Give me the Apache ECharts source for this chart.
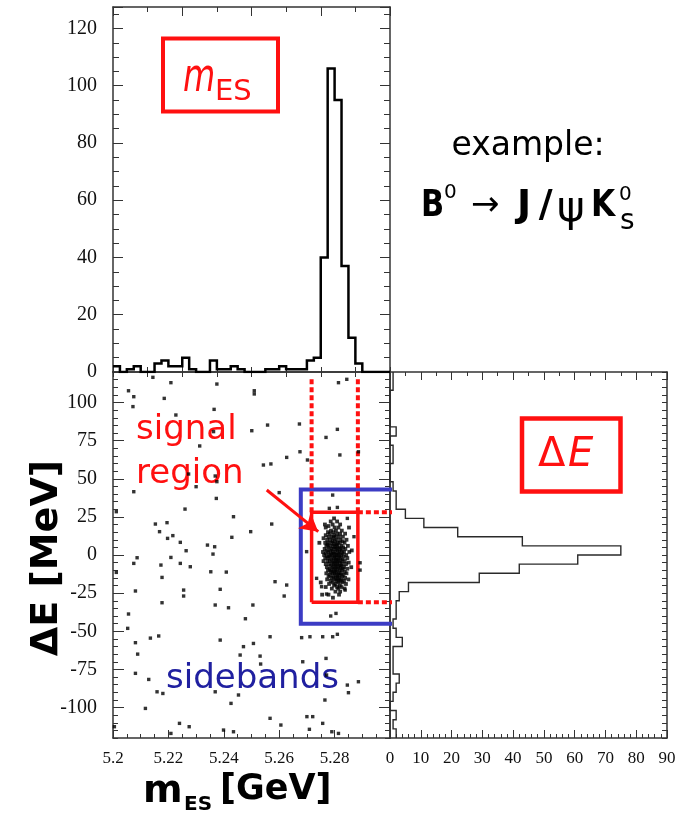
<!DOCTYPE html>
<html>
<head>
<meta charset="utf-8">
<script src="https://cdn.jsdelivr.net/npm/echarts@6/dist/echarts.min.js"></script>
<style>
html, body { margin: 0; padding: 0; background: #fff; }
#main { width: 683px; height: 818px; }
</style>
</head>
<body>
<div id="main"></div>
<script>
// mES histogram: 40 bins of 2.5 MeV, 5.200 .. 5.300 GeV
var mesStart = 5.2, mesBin = 0.0025;
var mesCounts = [2,0,1,2,0,0,3,4,2,2, 5,1,0,0,4,1,1,2,1,0, 0,0,1,1,2,1,1,1,4,5, 40,106,95,37,12,3,0,0,0,0];

// Delta E histogram: 40 bins of 6 MeV, -120 .. 120 MeV
var deStart = -120, deBin = 6;
var deCounts = [2,1,2,0,1,2,3,1,1,1, 4,2,1,2,2,3,6,29,42,61, 75,43,22,11,5,2,2,1,0,0, 1,1,0,2,0,0,0,0,1,1];

// tick labels
var deLongTicks = [-100,-75,-50,-25,0,25,50,75,100];

// scatter: [mES GeV, dE MeV]
var bgPoints = [
  [5.2144,116.5],[5.2209,113.0],[5.2375,112.1],[5.2056,107.7],[5.2075,103.8],[5.2185,102.7],
  [5.2072,97.3],[5.2365,95.5],[5.2227,91.8],[5.2363,80.9],[5.2313,71.5],[5.2273,53.1],
  [5.2369,51.8],[5.2375,48.1],[5.2300,44.8],[5.2075,41.5],[5.2373,37.1],[5.2260,30.1],
  [5.2012,28.4],[5.2435,25.1],[5.2153,20.3],[5.2195,21.2],[5.2168,15.3],[5.2216,12.7],
  [5.2197,10.9],[5.2429,11.6],[5.2243,8.3],[5.2341,6.5],[5.2367,5.4],[5.2264,2.8],
  [5.2361,0.6],[5.2087,-1.8],[5.2209,-1.6],[5.2075,-5.5],[5.2243,-5.5],[5.2173,-6.6],
  [5.2279,-7.7],[5.2012,-11.4],[5.2353,-11.0],[5.2409,-11.2],[5.2177,-14.7],[5.2081,-23.6],
  [5.2255,-23.0],[5.2255,-26.9],[5.2387,-22.5],[5.2177,-31.3],[5.2369,-32.8],[5.2417,-34.6],
  [5.2056,-38.7],[5.2478,-41.8],[5.2053,-48.1],[5.2165,-53.1],[5.2135,-54.5],[5.2081,-57.5],
  [5.2387,-55.8],[5.2471,-60.1],[5.2089,-65.0],[5.2459,-65.6],[5.2081,-77.6],[5.2129,-81.6],
  [5.2159,-89.7],[5.2180,-90.8],[5.2369,-89.7],[5.2453,-91.8],[5.2426,-97.3],[5.2117,-100.6],
  [5.2240,-110.4],[5.2275,-112.6],[5.2209,-117.0],[5.2399,-114.8],[5.2435,-115.9],[5.2005,-112.6],
  [5.2814,113.0],[5.2844,115.2],[5.2510,107.7],[5.2510,105.6],[5.2673,85.9],[5.2558,85.2],
  [5.2810,82.4],[5.2769,77.1],[5.2501,81.5],[5.2675,67.7],[5.2627,64.0],[5.2819,65.6],
  [5.2570,59.7],[5.2543,59.0],[5.2702,62.3],[5.2886,67.7],[5.2497,15.3],[5.2573,20.3],
  [5.2600,40.9],[5.2585,-17.5],[5.2627,-19.7],[5.2618,-26.9],[5.2505,-32.8],[5.2567,-53.6],
  [5.2507,-58.0],[5.2681,-54.2],[5.2711,-53.6],[5.2757,-53.6],[5.2793,-53.6],[5.2810,-52.0],
  [5.2531,-66.3],[5.2685,-70.0],[5.2769,-67.8],[5.2533,-71.5],[5.2771,-78.7],[5.2846,-85.3],
  [5.2886,-83.1],[5.2765,-95.1],[5.2850,-90.3],[5.2721,-106.0],[5.2567,-107.1],[5.2606,-111.5],
  [5.2700,-106.0],[5.2709,-114.3],[5.2790,-115.9],[5.2814,-117.0],[5.2757,-110.4],
  [5.2793,39.3],[5.2781,30.6],[5.2810,31.2],[5.2699,2.2],[5.2735,-15.3],[5.2786,-40.0],
  [5.2805,-38.3],[5.2892,-5.1],[5.2892,-9.9],[5.2870,12.0],[5.2846,24.0],[5.2753,-20.8],
  [5.2771,-25.6],[5.2838,-23.0]
];

var sigPoints = [
  [5.2798,24],[5.2786,22],[5.2809,22],[5.2793,20],[5.2820,20],[5.2778,19],
  [5.2800,18],[5.2814,18],[5.2768,18],[5.2787,16],[5.2805,16],[5.2826,16],
  [5.2795,15],[5.2776,15],[5.2783,14],[5.2809,14],[5.2820,14],[5.2838,14],
  [5.2798,13],[5.2768,13],[5.2778,12],[5.2790,12],[5.2804,12],[5.2816,12],[5.2830,12],
  [5.2796,11],[5.2760,11],[5.2773,10],[5.2784,10],[5.2808,10],[5.2821,10],[5.2843,10],
  [5.2793,9],[5.2801,9],[5.2829,9],[5.2766,8],[5.2778,8],[5.2789,8],[5.2812,8],[5.2819,8],[5.2836,8],
  [5.2798,7],[5.2806,7],[5.2774,7],[5.2770,6],[5.2783,6],[5.2794,6],[5.2809,6],[5.2825,6],[5.2848,6],
  [5.2778,5],[5.2802,5],[5.2816,5],[5.2831,5],[5.2764,4],[5.2789,4],[5.2797,4],[5.2807,4],[5.2820,4],[5.2839,4],
  [5.2772,3],[5.2784,3],[5.2811,3],[5.2826,3],
  [5.2758,2],[5.2777,2],[5.2793,2],[5.2803,2],[5.2818,2],[5.2834,2],[5.2853,2],
  [5.2768,1],[5.2787,1],[5.2798,1],[5.2814,1],[5.2828,1],
  [5.2762,0],[5.2780,0],[5.2792,0],[5.2805,0],[5.2810,0],[5.2823,0],[5.2842,0],
  [5.2773,-1],[5.2785,-1],[5.2800,-1],[5.2817,-1],[5.2833,-1],
  [5.2766,-2],[5.2778,-2],[5.2796,-2],[5.2808,-2],[5.2821,-2],[5.2846,-2],
  [5.2789,-3],[5.2804,-3],[5.2814,-3],[5.2829,-3],
  [5.2760,-4],[5.2774,-4],[5.2783,-4],[5.2798,-4],[5.2811,-4],[5.2824,-4],[5.2837,-4],
  [5.2792,-5],[5.2805,-5],[5.2819,-5],[5.2851,-5],
  [5.2768,-6],[5.2780,-6],[5.2796,-6],[5.2809,-6],[5.2828,-6],[5.2841,-6],
  [5.2787,-7],[5.2802,-7],[5.2816,-7],[5.2823,-7],
  [5.2772,-8],[5.2793,-8],[5.2806,-8],[5.2820,-8],[5.2834,-8],
  [5.2782,-9],[5.2798,-9],[5.2812,-9],[5.2830,-9],[5.2846,-9],
  [5.2776,-10],[5.2789,-10],[5.2803,-10],[5.2818,-10],[5.2826,-10],
  [5.2785,-11],[5.2797,-11],[5.2808,-11],[5.2837,-11],
  [5.2770,-12],[5.2792,-12],[5.2801,-12],[5.2815,-12],[5.2823,-12],[5.2843,-12],
  [5.2783,-13],[5.2806,-13],[5.2819,-13],[5.2832,-13],
  [5.2778,-14],[5.2795,-14],[5.2810,-14],[5.2827,-14],
  [5.2789,-15],[5.2803,-15],[5.2816,-15],[5.2838,-15],
  [5.2773,-16],[5.2798,-16],[5.2812,-16],[5.2824,-16],[5.2850,-16],
  [5.2786,-17],[5.2807,-17],[5.2820,-17],[5.2834,-17],
  [5.2793,-18],[5.2814,-18],[5.2828,-18],[5.2780,-19],[5.2803,-19],[5.2841,-19],
  [5.2798,-20],[5.2819,-20],[5.2809,-21],[5.2768,-21],[5.2825,-21],
  [5.2790,-22],[5.2813,-22],[5.2836,-22],[5.2803,-24],[5.2820,-24],
  [5.2778,-26],[5.2816,-26],[5.2794,-28],
  [5.2750,-18],[5.2755,-26],[5.2860,-8],[5.2862,3],[5.2765,20],[5.2852,18],[5.2745,8]
];

// selection boxes (mES GeV, dE MeV)
var signalMes = [5.2717, 5.2884];
var signalDe = [-31, 28];
var sidebandMes = [5.2678, 5.3008];
var sidebandDe = [-45, 43];
var dottedTop = 117;

var RED = '#ff1010', BLUE = '#3c3cc4', AX = '#333';

var mesHist = [];
mesCounts.forEach(function (c, i) {
  mesHist.push([mesStart + i * mesBin, c], [mesStart + (i + 1) * mesBin, c]);
});
var deHist = [];
deCounts.forEach(function (c, i) {
  deHist.push([c, deStart + i * deBin], [c, deStart + (i + 1) * deBin]);
});

function ax(o) {
  var base = {
    type: 'value',
    axisLine: { show: true, onZero: false, lineStyle: { color: AX, width: 1.5 } },
    axisTick: { show: true, inside: true, length: 8, lineStyle: { color: AX, width: 1 } },
    minorTick: { show: false },
    axisLabel: { show: false },
    splitLine: { show: false }
  };
  return Object.assign(base, o);
}
function tick(len, extra) {
  return Object.assign({ show: true, inside: true, length: len, lineStyle: { color: AX, width: 1 } }, extra || {});
}
function minor(n, len) {
  return { show: true, splitNumber: n, length: len, lineStyle: { color: AX, width: 1 } };
}
var labX = { show: true, margin: 12, fontFamily: 'Liberation Serif', fontSize: 17, color: '#111' };
var labY = { show: true, margin: 16, fontFamily: 'Liberation Serif', fontSize: 20, color: '#111' };

function seg(pts, color, width, type) {
  return {
    type: 'line', xAxisIndex: 2, yAxisIndex: 2, data: pts, symbol: 'none', clip: false,
    lineStyle: { color: color, width: width, type: type || 'solid', cap: 'butt', join: 'miter' },
    z: 3, silent: true
  };
}

var chart = echarts.init(document.getElementById('main'));
chart.setOption({
  animation: false,
  grid: [
    { left: 113, top: 7, width: 277, height: 365 },
    { left: 113, top: 372, width: 277, height: 366 },
    { left: 390, top: 372, width: 277, height: 366 }
  ],
  xAxis: [
    ax({ gridIndex: 0, position: 'bottom', min: 5.2, max: 5.3, interval: 0.0125, axisTick: tick(5) }),
    ax({ gridIndex: 0, position: 'top', min: 5.2, max: 5.3, interval: 0.025, axisTick: tick(9), minorTick: minor(2, 5) }),
    ax({ gridIndex: 1, position: 'bottom', min: 5.2, max: 5.3, interval: 0.02, axisTick: tick(8), minorTick: minor(4, 4),
      axisLabel: Object.assign({}, labX, { showMaxLabel: false, formatter: function (v) { return String(parseFloat(v.toFixed(3))); } }) }),
    ax({ gridIndex: 1, position: 'top', min: 5.2, max: 5.3, interval: 0.0125, axisTick: tick(5) }),
    ax({ gridIndex: 2, position: 'bottom', min: 0, max: 90, interval: 10, axisTick: tick(8), minorTick: minor(5, 4), axisLabel: labX }),
    ax({ gridIndex: 2, position: 'top', min: 0, max: 90, interval: 10, axisTick: tick(8), minorTick: minor(2, 4) })
  ],
  yAxis: [
    ax({ gridIndex: 0, position: 'left', min: 0, max: 127.5, interval: 20, axisTick: tick(10), minorTick: minor(4, 6),
      axisLabel: Object.assign({}, labY, { showMaxLabel: false }) }),
    ax({ gridIndex: 0, position: 'right', min: 0, max: 127.5, interval: 20, axisTick: tick(10), minorTick: minor(4, 6) }),
    ax({ gridIndex: 1, position: 'left', min: -120, max: 120, interval: 5, axisTick: tick(5),
      axisLabel: Object.assign({}, labY, { formatter: function (v) { return (v % 25 === 0 && Math.abs(v) <= 100) ? String(v) : ''; } }) }),
    ax({ gridIndex: 1, position: 'left', min: -120, max: 120, axisLine: { show: false }, axisTick: tick(11, { customValues: deLongTicks }) }),
    ax({ gridIndex: 1, position: 'right', min: -120, max: 120, interval: 5, axisTick: tick(5) }),
    ax({ gridIndex: 1, position: 'right', min: -120, max: 120, axisLine: { show: false }, axisTick: tick(11, { customValues: deLongTicks }) }),
    ax({ gridIndex: 2, position: 'left', min: -120, max: 120, axisTick: { show: false } }),
    ax({ gridIndex: 2, position: 'right', min: -120, max: 120, interval: 5, axisTick: tick(5) }),
    ax({ gridIndex: 2, position: 'right', min: -120, max: 120, axisLine: { show: false }, axisTick: tick(11, { customValues: deLongTicks }) })
  ],
  series: [
    { type: 'line', xAxisIndex: 0, yAxisIndex: 0, data: mesHist, symbol: 'none',
      lineStyle: { color: '#000', width: 2.5, join: 'miter' } },
    { type: 'line', xAxisIndex: 4, yAxisIndex: 6, data: deHist, symbol: 'none',
      lineStyle: { color: '#2a2a2a', width: 1.4, join: 'miter' } },
    seg([[sidebandMes[1], sidebandDe[1]], [sidebandMes[0], sidebandDe[1]], [sidebandMes[0], sidebandDe[0]], [sidebandMes[1], sidebandDe[0]]], BLUE, 4),
    seg([[signalMes[0], signalDe[1]], [signalMes[0], dottedTop]], RED, 4, [5, 3]),
    seg([[signalMes[1], signalDe[1]], [signalMes[1], dottedTop]], RED, 4, [5, 3]),
    seg([[signalMes[1], signalDe[1]], [sidebandMes[1], signalDe[1]]], RED, 4, [5, 3]),
    seg([[signalMes[1], signalDe[0]], [sidebandMes[1], signalDe[0]]], RED, 4, [5, 3]),
    Object.assign(seg([[signalMes[0], signalDe[0]], [signalMes[1], signalDe[0]], [signalMes[1], signalDe[1]], [signalMes[0], signalDe[1]], [signalMes[0], signalDe[0]]], RED, 3.5), {
      markLine: {
        silent: true, symbol: ['none', 'arrow'], symbolSize: [15, 18], animation: false,
        label: { show: false }, lineStyle: { color: RED, width: 3, type: 'solid' },
        data: [[{ coord: [5.2555, 42.6] }, { coord: [5.2741, 15.3] }]]
      }
    }),
    { type: 'scatter', xAxisIndex: 2, yAxisIndex: 2, data: bgPoints, symbol: 'rect', symbolSize: 3.4,
      itemStyle: { color: '#000' }, z: 4, silent: true },
    { type: 'scatter', xAxisIndex: 2, yAxisIndex: 2, data: sigPoints, symbol: 'rect', symbolSize: 3.8,
      itemStyle: { color: '#000' }, z: 4, silent: true }
  ],
  graphic: [
    { type: 'rect', shape: { x: 163, y: 38.5, width: 115, height: 73 }, style: { fill: 'none', stroke: RED, lineWidth: 4 } },
    { type: 'text', x: 183, y: 79, scaleX: 0.72, style: { text: 'm', font: 'italic 46px "DejaVu Sans"', fill: RED, textAlign: 'left', textVerticalAlign: 'middle' } },
    { type: 'text', x: 215, y: 92, style: { text: 'ES', font: '29px "DejaVu Sans"', fill: RED, textAlign: 'left', textVerticalAlign: 'middle' } },

    { type: 'rect', shape: { x: 522, y: 418.5, width: 98.5, height: 73 }, style: { fill: 'none', stroke: RED, lineWidth: 4.5 } },
    { type: 'text', x: 538, y: 456, style: { text: '\u0394', font: '40px "DejaVu Sans"', fill: RED, textAlign: 'left', textVerticalAlign: 'middle' } },
    { type: 'text', x: 568, y: 456, style: { text: 'E', font: 'italic 40px "DejaVu Sans"', fill: RED, textAlign: 'left', textVerticalAlign: 'middle' } },

    { type: 'text', x: 528, y: 146, style: { text: 'example:', font: '33px "DejaVu Sans"', fill: '#000', textAlign: 'center', textVerticalAlign: 'middle' } },
    { type: 'text', x: 421, y: 206, scaleX: 0.8, style: { text: 'B', font: 'bold 38px "DejaVu Sans"', fill: '#000', textAlign: 'left', textVerticalAlign: 'middle' } },
    { type: 'text', x: 444, y: 193, style: { text: '0', font: '20px "DejaVu Sans"', fill: '#000', textAlign: 'left', textVerticalAlign: 'middle' } },
    { type: 'text', x: 471, y: 206, style: { text: '\u2192', font: '34px "DejaVu Sans"', fill: '#000', textAlign: 'left', textVerticalAlign: 'middle' } },
    { type: 'text', x: 517, y: 206, style: { text: 'J\u2009/', font: 'bold 38px "DejaVu Sans"', fill: '#000', textAlign: 'left', textVerticalAlign: 'middle' } },
    { type: 'text', x: 557, y: 210, style: { text: '\u03c8', font: '42px "DejaVu Sans"', fill: '#000', textAlign: 'left', textVerticalAlign: 'middle' } },
    { type: 'text', x: 591, y: 206, scaleX: 0.82, style: { text: 'K', font: 'bold 38px "DejaVu Sans"', fill: '#000', textAlign: 'left', textVerticalAlign: 'middle' } },
    { type: 'text', x: 619, y: 195, style: { text: '0', font: '20px "DejaVu Sans"', fill: '#000', textAlign: 'left', textVerticalAlign: 'middle' } },
    { type: 'text', x: 620, y: 222, style: { text: 's', font: '28px "DejaVu Sans"', fill: '#000', textAlign: 'left', textVerticalAlign: 'middle' } },

    { type: 'text', x: 136, y: 430, style: { text: 'signal', font: '34px "DejaVu Sans"', fill: RED, textAlign: 'left', textVerticalAlign: 'middle' } },
    { type: 'text', x: 136, y: 474, style: { text: 'region', font: '34px "DejaVu Sans"', fill: RED, textAlign: 'left', textVerticalAlign: 'middle' } },
    { type: 'text', x: 166, y: 679, style: { text: 'sidebands', font: '34px "DejaVu Sans"', fill: '#2020a0', textAlign: 'left', textVerticalAlign: 'middle' } },

    { type: 'text', x: 47, y: 558, rotation: Math.PI / 2, style: { text: '\u0394E [MeV]', font: 'bold 38px "DejaVu Sans"', fill: '#000', textAlign: 'center', textVerticalAlign: 'middle' } },
    { type: 'text', x: 143, y: 792, style: { text: 'm', font: 'bold 38px "DejaVu Sans"', fill: '#000', textAlign: 'left', textVerticalAlign: 'middle' } },
    { type: 'text', x: 184, y: 805, style: { text: 'ES', font: 'bold 20px "DejaVu Sans"', fill: '#000', textAlign: 'left', textVerticalAlign: 'middle' } },
    { type: 'text', x: 220, y: 790, style: { text: '[GeV]', font: 'bold 35px "DejaVu Sans"', fill: '#000', textAlign: 'left', textVerticalAlign: 'middle' } }
  ]
});
</script>
</body>
</html>
